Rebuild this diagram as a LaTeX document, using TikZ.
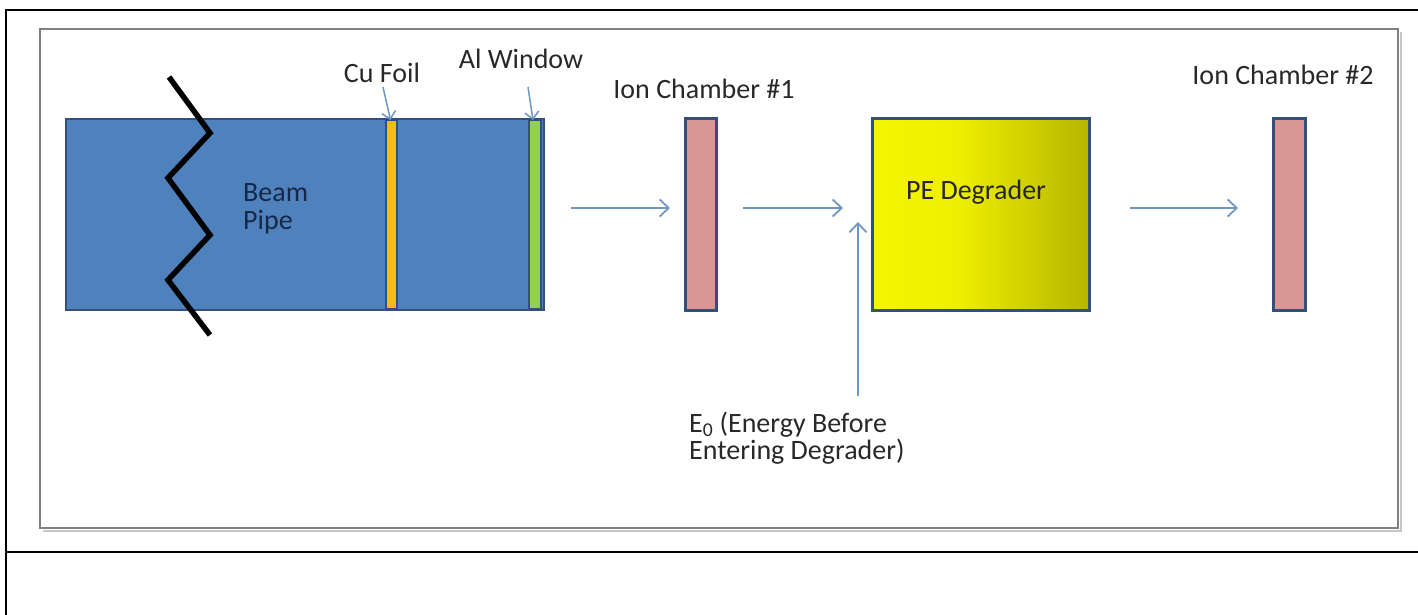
\documentclass[tikz,border=0pt]{standalone}
\usepackage{fontspec}
\setmainfont{Carlito}
\usetikzlibrary{arrows.meta}
\definecolor{pipeblue}{RGB}{79,129,189}
\definecolor{edgeblue}{RGB}{52,80,122}
\definecolor{cuorange}{RGB}{250,185,20}
\definecolor{algreen}{RGB}{146,208,80}
\definecolor{icpink}{RGB}{217,150,148}
\definecolor{arrblue}{RGB}{112,150,196}
\definecolor{txtgray}{RGB}{40,40,40}
\definecolor{navytxt}{RGB}{22,40,72}
\definecolor{framegray}{RGB}{128,128,128}
\definecolor{peY}{RGB}{255,255,0}
\definecolor{peM}{RGB}{238,238,0}
\definecolor{peO}{RGB}{135,135,0}
\pgfdeclarehorizontalshading{peshade}{100bp}{color(0bp)=(peY); color(45bp)=(peM); color(100bp)=(peO)}
\begin{document}
\begin{tikzpicture}[x=1pt,y=-1pt,
  box/.style={draw=edgeblue, line width=3pt, inner sep=0pt, outer sep=0pt},
  foil/.style={draw=edgeblue, line width=2pt, inner sep=0pt, outer sep=0pt},
  lbl/.style={text=txtgray, font=\fontsize{28}{27}\selectfont, inner sep=0pt},
  arr/.style={draw=arrblue, line width=1.8pt, -{Straight Barb[length=9pt,width=17pt,line width=1.8pt]}},
  smallarr/.style={draw=arrblue, line width=1.5pt, -{Straight Barb[length=7pt,width=14pt,line width=1.5pt]}},
  zig/.style={draw=black, line width=5.5pt, line join=miter},
  frameline/.style={draw=black, line width=2.5pt},
]
\useasboundingbox (0,0) rectangle (1418,615);
% outer frame
\draw[frameline] (6,615) -- (6,10) -- (1418,10);
\draw[frameline] (6,552) -- (1418,552);
% inner panel with shadow
\draw[framegray!45, line width=2.5pt] (43,531) -- (1401,531) -- (1401,32);
\draw[framegray, line width=2pt] (40,29) rectangle (1398,528);

% beam pipe
\node[box, line width=2pt, fill=pipeblue, minimum width=478pt, minimum height=191pt] (pipe) at (305,214.5) {};
\node[foil, fill=cuorange, minimum width=11pt, minimum height=189pt] (cu) at (391.5,214.5) {};
\node[foil, fill=algreen, minimum width=12pt, minimum height=189pt] (al) at (535,214.5) {};
\node[text=navytxt, font=\fontsize{28}{33}\selectfont, inner sep=0pt, anchor=base west] (beam) at (243,201) {Beam};
\node[text=navytxt, font=\fontsize{28}{33}\selectfont, inner sep=0pt, anchor=base west] (pipetxt) at (243,229) {Pipe};
\draw[zig] (169,77) -- (210,133) -- (168,178) -- (210,235) -- (168,280) -- (210,335);

% ion chambers and degrader
\node[box, fill=icpink, minimum width=31pt, minimum height=191pt] (ic1) at (700.5,214.5) {};
\node[box, shading=peshade, minimum width=217pt, minimum height=191pt] (pe) at (980.5,214.5) {};
\node[box, fill=icpink, minimum width=32pt, minimum height=191pt] (ic2) at (1289,214.5) {};

% labels
\node[lbl, anchor=base] (cut) at (382,83) {Cu Foil};
\node[lbl, anchor=base] (alt) at (521,69) {Al Window};
\node[lbl, anchor=base] (ic1t) at (704,99) {Ion Chamber \#1};
\node[lbl, anchor=base] (ic2t) at (1283,85) {Ion Chamber \#2};
\node[lbl, text=black!85, anchor=base] (pet) at (976,199) {PE Degrader};
\node[lbl, anchor=base west, align=left] (e0) at (689,459) {E\textsubscript{0} (Energy Before\\Entering Degrader)};

% label arrows
\coordinate (cua) at (383,87);
\coordinate (ala) at (528,87);
\draw[smallarr] (cua) -- ([xshift=-1pt]cu.north);
\draw[smallarr] (ala) -- ([xshift=-2pt]al.north);

% beam arrows
\coordinate (a1s) at (571,208);
\coordinate (a2s) at (743,208);
\coordinate (a3s) at (1130,208);
\coordinate (e0s) at (858,396);
\coordinate (e0tip) at (858,222);
\draw[arr] (a1s) -- ([xshift=-15pt]a1s -| ic1.west);
\draw[arr] (a2s) -- ([xshift=-29pt]a2s -| pe.west);
\draw[arr] (a3s) -- ([xshift=-35pt]a3s -| ic2.west);
\draw[arr] (e0s) -- (e0tip);
\end{tikzpicture}
\end{document}
